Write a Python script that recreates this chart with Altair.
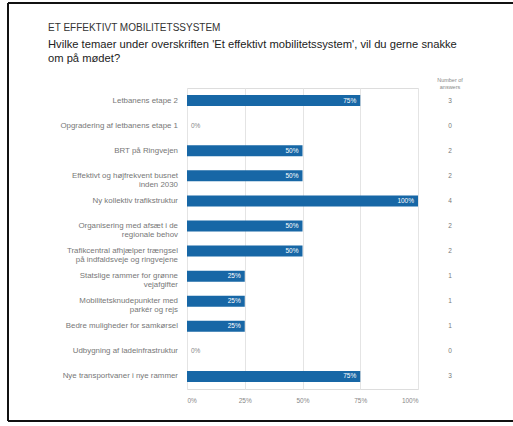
import altair as alt
import pandas as pd

title_text = "ET EFFEKTIVT MOBILITETSSYSTEM"
subtitle_lines = [
    "Hvilke temaer under overskriften 'Et effektivt mobilitetssystem', vil du gerne snakke",
    "om på mødet?",
]
labels = [
    "Letbanens etape 2",
    "Opgradering af letbanens etape 1",
    "BRT på Ringvejen",
    "Effektivt og højfrekvent busnet\ninden 2030",
    "Ny kollektiv trafikstruktur",
    "Organisering med afsæt i de\nregionale behov",
    "Trafikcentral afhjælper trængsel\npå indfaldsveje og ringvejene",
    "Statslige rammer for grønne\nvejafgifter",
    "Mobilitetsknudepunkter med\nparkér og rejs",
    "Bedre muligheder for samkørsel",
    "Udbygning af ladeinfrastruktur",
    "Nye transportvaner i nye rammer",
]
pct = [75, 0, 50, 50, 100, 50, 50, 25, 25, 25, 0, 75]
answers = [3, 0, 2, 2, 4, 2, 2, 1, 1, 1, 0, 3]
ticks = [0, 25, 50, 75, 100]

keys = [f"k{i:02d}" for i in range(len(labels))]
df = pd.DataFrame({"key": keys, "label": labels, "pct": pct,
                   "answers": [str(a) for a in answers]})
df["pct_label"] = df["pct"].astype(str) + "%"

FONT = "Liberation Sans"
BLUE = "#1767a6"

y_enc = alt.Y("key:N", sort=keys, axis=None,
              scale=alt.Scale(paddingInner=0, paddingOuter=0))

base = alt.Chart(df).encode(y=y_enc)

bars = base.mark_bar(size=11, color=BLUE).encode(
    x=alt.X("pct:Q", scale=alt.Scale(domain=[0, 100]),
            axis=alt.Axis(values=ticks, labelExpr="datum.value + '%'",
                          grid=True, gridColor="#e4e4e4", gridWidth=1,
                          domain=False, ticks=False, labelColor="#888888",
                          labelFontSize=6.5, labelFont=FONT, labelPadding=8,
                          title=None))
)

inside = base.transform_filter("datum.pct > 0").mark_text(
    align="right", baseline="middle", dx=-4, color="white",
    fontSize=6.5, font=FONT
).encode(x="pct:Q", text="pct_label:N")

zero = base.transform_filter("datum.pct == 0").mark_text(
    align="left", baseline="middle", dx=4, color="#888888",
    fontSize=6.5, font=FONT
).encode(x="pct:Q", text="pct_label:N")

row_labels = base.mark_text(
    align="right", baseline="middle", color="#777777",
    fontSize=7.9, font=FONT, lineBreak="\n", lineHeight=9
).encode(x=alt.value(-9), text="label:N")

counts = base.mark_text(
    align="center", baseline="middle", color="#777777",
    fontSize=6.5, font=FONT
).encode(x=alt.value(263), text="answers:N")

one = pd.DataFrame({"a": [0]})
header = alt.Chart(one).mark_text(
    align="center", baseline="middle", color="#888888",
    fontSize=5.5, font=FONT, lineBreak="\n", lineHeight=7
).encode(x=alt.value(263), y=alt.value(-8), text=alt.value("Number of\nanswers"))

title_mark = alt.Chart(one).mark_text(
    align="left", baseline="middle", color="#333333",
    fontSize=10, font=FONT
).encode(x=alt.value(-139), y=alt.value(-60), text=alt.value(title_text))

sub1 = alt.Chart(one).mark_text(
    align="left", baseline="middle", color="#222222",
    fontSize=11.2, font=FONT
).encode(x=alt.value(-139), y=alt.value(-43), text=alt.value(subtitle_lines[0]))

sub2 = alt.Chart(one).mark_text(
    align="left", baseline="middle", color="#222222",
    fontSize=11.2, font=FONT
).encode(x=alt.value(-139), y=alt.value(-29), text=alt.value(subtitle_lines[1]))

frame_top = alt.Chart(one).mark_rule(color="#111111", strokeWidth=2).encode(
    x=alt.value(-179), x2=alt.value(326), y=alt.value(-85))
frame_bottom = alt.Chart(one).mark_rule(color="#111111", strokeWidth=2).encode(
    x=alt.value(-179), x2=alt.value(326), y=alt.value(333))
frame_left = alt.Chart(one).mark_rule(color="#111111", strokeWidth=2).encode(
    x=alt.value(-179), y=alt.value(-85), y2=alt.value(333))

chart = alt.layer(frame_top, frame_bottom, frame_left, bars, inside, zero,
                  row_labels, counts, header, title_mark, sub1, sub2).properties(
    width=231, height=301,
    autosize=alt.AutoSizeParams(type="none"),
    padding={"left": 187, "top": 88, "right": 95, "bottom": 37},
).configure_view(stroke=None).configure(background="white")

chart.save("out.html", embed_options={"renderer": "svg", "actions": False})
